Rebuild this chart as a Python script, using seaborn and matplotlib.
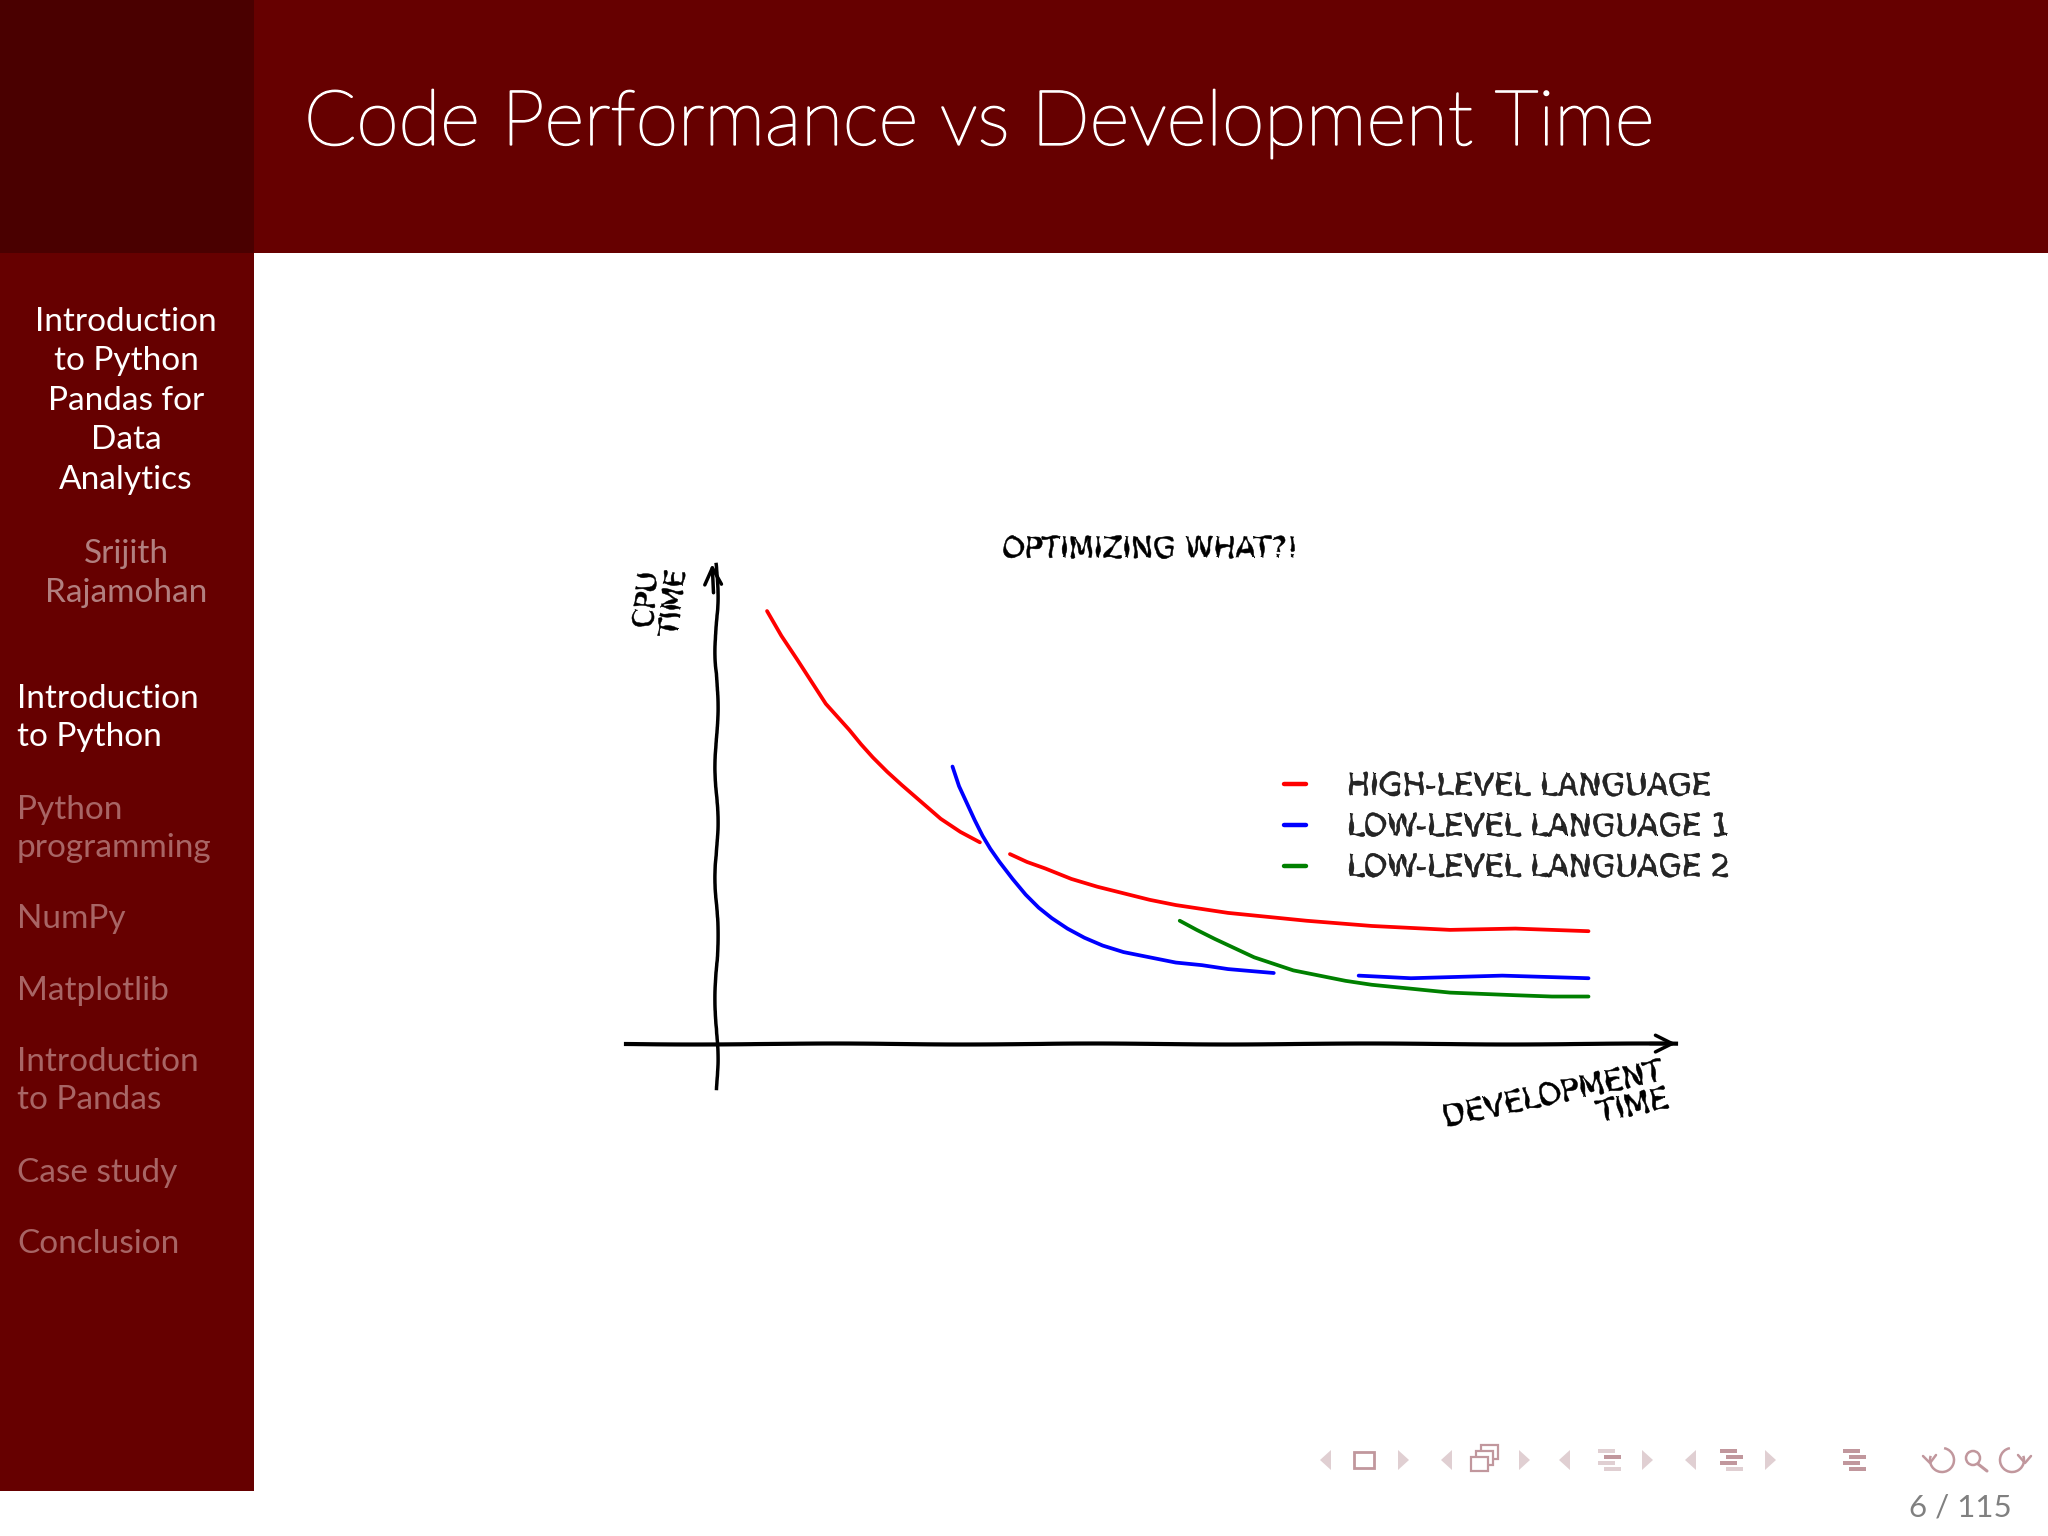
import matplotlib
matplotlib.use("Agg")
import matplotlib.pyplot as plt
from matplotlib.patches import Rectangle, Polygon, Circle, Arc
from matplotlib.patheffects import AbstractPathEffect, withStroke
import pandas as pd
import seaborn as sns

# curves, in px-like units from the plot origin (gaps are separate segments)
high_x1 = [39, 50, 62, 73, 84, 93, 102, 111, 120, 131, 142, 157, 172, 187, 202]
high_y1 = [331, 312, 294, 277, 260, 250, 240, 229, 219, 208, 198, 185, 172, 162, 154]
high_x2 = [225, 238, 252, 272, 292, 312, 332, 352, 372, 392, 412, 452, 502, 562, 612, 668]
high_y2 = [145, 139, 134, 126, 120, 115, 110, 106, 103, 100, 98, 94, 90, 87, 88, 86]
low1_x1 = [181, 186, 192, 198, 204, 210, 217, 227, 237, 247, 257, 269, 282, 296, 312, 332, 352, 372, 392, 427]
low1_y1 = [212, 197, 184, 171, 159, 149, 139, 126, 114, 104, 96, 88, 81, 75, 70, 66, 62, 60, 57, 54]
low1_x2 = [492, 512, 532, 567, 602, 635, 668]
low1_y2 = [52, 51, 50, 51, 52, 51, 50]
low2_x = [355, 368, 382, 397, 412, 427, 442, 462, 482, 502, 522, 542, 562, 587, 612, 640, 668]
low2_y = [94, 87, 80, 73, 66, 61, 56, 52, 48, 45, 43, 41, 39, 38, 37, 36, 36]

series_names = ["HIGH-LEVEL LANGUAGE", "LOW-LEVEL LANGUAGE 1", "LOW-LEVEL LANGUAGE 2"]
series_colors = ["#ff0000", "#0000ff", "#008000"]

slide_title = "Code Performance vs Development Time"
deck_lines = ["Introduction", "to Python", "Pandas for", "Data", "Analytics"]
author_lines = ["Srijith", "Rajamohan"]
nav_items = ["Introduction\nto Python", "Python\nprogramming", "NumPy", "Matplotlib",
             "Introduction\nto Pandas", "Case study", "Conclusion"]
nav_y = [718, 829, 919, 991, 1081, 1173, 1244]
page_label = "6 / 115"


class Wobble(AbstractPathEffect):
    # shaky outline so the chart labels look hand drawn
    def draw_path(self, renderer, gc, tpath, affine, rgbFace=None):
        gc.set_sketch_params(0.9, 22, 2)
        gc.set_linewidth(0.35)
        gc.set_foreground("black")
        renderer.draw_path(gc, tpath, affine, rgbFace)


sns.set_theme(style="white")
plt.rcParams["font.family"] = ["Lato", "DejaVu Sans"]

fig = plt.figure(figsize=(20.48, 15.36), dpi=100)

# slide chrome in pixel coordinates
page = fig.add_axes([0, 0, 1, 1], zorder=0)
page.set_xlim(0, 2048)
page.set_ylim(1536, 0)
page.axis("off")
page.add_patch(Rectangle((0, 0), 2048, 253, color="#660000", lw=0))
page.add_patch(Rectangle((0, 253), 254, 1238, color="#660000", lw=0))
page.add_patch(Rectangle((0, 0), 254, 253, color="#4a0000", lw=0))

title = page.text(304, 124, slide_title, color="white", fontsize=55.2, va="center", ha="left", fontweight="light")
title.set_path_effects([withStroke(linewidth=1.3, foreground="white")])
for i, line in enumerate(deck_lines):
    page.text(126, 322 + i * 39.4, line, color="white", fontsize=24, ha="center", va="center")
for i, line in enumerate(author_lines):
    page.text(126, 554 + i * 39.4, line, color="#b27f7f", fontsize=24, ha="center", va="center")
for i, (item, y) in enumerate(zip(nav_items, nav_y)):
    page.text(17, y, item, color="white" if i == 0 else "#a86565", fontsize=24,
              ha="left", va="center", linespacing=1.37)
page.text(2012, 1508, page_label, color="#808080", fontsize=22.5, ha="right", va="center")

# beamer navigation symbols
light = "#e0cfd2"
mid = "#c1979d"
icon_y = 1460
for x in [1326, 1447, 1565, 1691]:
    page.add_patch(Polygon([[x + 5, icon_y - 10], [x + 5, icon_y + 10], [x - 6, icon_y]], color=light, lw=0))
for x in [1403, 1524, 1647, 1770]:
    page.add_patch(Polygon([[x - 5, icon_y - 10], [x - 5, icon_y + 10], [x + 6, icon_y]], color=light, lw=0))
page.add_patch(Rectangle((1354, icon_y - 8), 20, 16, fill=False, ec=mid, lw=2))
for dx, dy in [(10, -12), (5, -6), (0, 0)]:
    page.add_patch(Rectangle((1471 + dx, icon_y - 3 + dy), 17, 14, fc="white", ec=mid, lw=1.6))
for x, shades in [(1609, [light, mid, light, light]), (1731, [mid, mid, mid, light]), (1854, [mid, mid, mid, mid])]:
    for k, c in enumerate(shades):
        off = 0 if k % 2 == 0 else 6
        page.add_patch(Rectangle((x - 11 + off, icon_y - 11 + k * 6), 17, 3.5, color=c, lw=0))
page.add_patch(Arc((1942, icon_y), 24, 24, theta1=-80, theta2=200, ec=mid, lw=1.8))
page.plot([1923, 1930, 1936], [icon_y - 4, icon_y + 3, icon_y - 5], color=mid, lw=1.8)
page.add_patch(Arc((2012, icon_y), 24, 24, theta1=-20, theta2=260, ec=mid, lw=1.8))
page.plot([2018, 2025, 2031], [icon_y - 5, icon_y + 3, icon_y - 4], color=mid, lw=1.8)
page.add_patch(Circle((1973, icon_y - 2), 7, fill=False, ec=mid, lw=1.8))
page.plot([1978, 1987], [icon_y + 4, icon_y + 11], color=mid, lw=2.2)

# the actual chart
ax = fig.add_axes([626 / 2048, 1 - 1088 / 1536, 1050 / 2048, 524 / 1536], zorder=1)
ax.patch.set_alpha(0)

segments = [
    (high_x1, high_y1, 0),
    (high_x2, high_y2, 0),
    (low1_x1, low1_y1, 1),
    (low1_x2, low1_y2, 1),
    (low2_x, low2_y, 2),
]
for xs, ys, c in segments:
    seg = pd.DataFrame({"x": xs, "y": ys})
    sns.lineplot(data=seg, x="x", y="y", ax=ax, color=series_colors[c], lw=2.7,
                 sort=False, estimator=None, legend=False)

ax.set_xlim(-69, 735)
ax.set_ylim(-34, 367)
ax.set_xlabel("")
ax.set_ylabel("")
ax.set_xticks([])
ax.set_yticks([])
for side in ["top", "right"]:
    ax.spines[side].set_visible(False)
for side in ["left", "bottom"]:
    ax.spines[side].set_position(("data", 0))
    ax.spines[side].set_color("black")
ax.spines["left"].set_linewidth(2.5)
ax.spines["left"].set_sketch_params(1.6, 130, 2)
ax.spines["bottom"].set_linewidth(3)
ax.spines["bottom"].set_sketch_params(0.5, 300, 2)

head = dict(arrowstyle="->", color="black", lw=2.5, mutation_scale=30, shrinkA=0, shrinkB=0)
ax.annotate("", xy=(735, 0), xytext=(715, 0), annotation_clip=False, arrowprops=head)
ax.annotate("", xy=(-3, 367), xytext=(-2, 345), annotation_clip=False, arrowprops=head)

hand = ["DejaVu Sans"]
labels = [
    ax.text(332, 378, "OPTIMIZING WHAT?!", family=hand, fontsize=21, ha="center", va="center", color="black"),
    ax.text(-43, 338, "CPU\nTIME", family=hand, fontsize=20, rotation=84, ha="center", va="center",
            linespacing=0.95, color="black"),
    ax.text(727, -32, "DEVELOPMENT\nTIME", family=hand, fontsize=21.6, rotation=12, rotation_mode="anchor",
            ha="right", va="center", multialignment="right", linespacing=0.95, color="black"),
]

handles = [plt.Line2D([], [], color=c, lw=3.2) for c in series_colors]
leg = ax.legend(handles, series_names, frameon=False, loc="upper left",
                bbox_to_anchor=(0.627, 0.603), handlelength=0.72, handletextpad=1.33,
                labelspacing=0.38, borderpad=0, borderaxespad=0, prop={"family": hand, "size": 22})
labels.extend(leg.get_texts())
for t in labels:
    t.set_path_effects([Wobble()])

fig.savefig("out.png", dpi=100)
